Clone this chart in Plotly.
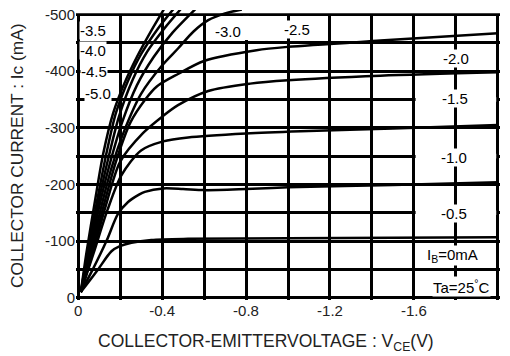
import plotly.graph_objects as go
import numpy as np

# ---- data (V_CE in volts, I_C in mA) ----
ib_labels = ["-0.5", "-1.0", "-1.5", "-2.0", "-2.5", "-3.0", "-3.5", "-4.0", "-4.5", "-5.0"]

v_05 = [-0.013, -0.05, -0.095, -0.159, -0.199, -0.254, -0.349, -0.524, -1.0, -1.5, -2.0]
i_05 = [-10, -28, -50, -82, -91, -97, -102, -104, -105, -106, -107]

v_10 = [-0.013, -0.07, -0.135, -0.19, -0.238, -0.29, -0.318, -0.405, -0.5, -0.6, -0.8, -1.0, -1.5, -2.0]
i_10 = [-10, -50, -100, -148, -169, -182, -187, -193, -192, -190, -192, -195, -199, -204]

v_15 = [-0.013, -0.075, -0.14, -0.206, -0.3, -0.405, -0.524, -0.8, -1.06, -1.5, -2.0]
i_15 = [-10, -80, -155, -216, -260, -276, -283, -290, -294, -299, -305]

v_20 = [-0.013, -0.07, -0.13, -0.2, -0.31, -0.405, -0.476, -0.62, -0.82, -1.0, -1.44, -2.0]
i_20 = [-10, -80, -160, -240, -291, -321, -340, -365, -378, -384, -392, -398]

v_25 = [-0.013, -0.065, -0.12, -0.18, -0.25, -0.32, -0.375, -0.476, -0.6, -0.85, -1.0, -1.44, -2.0]
i_25 = [-10, -80, -160, -240, -310, -350, -373, -395, -418, -437, -443, -454, -467]

v_30 = [-0.013, -0.06, -0.11, -0.16, -0.22, -0.3, -0.4, -0.476, -0.55, -0.62, -0.7, -0.78]
i_30 = [-10, -80, -160, -230, -295, -360, -410, -440, -470, -490, -502, -509]

v_35 = [-0.013, -0.055, -0.1, -0.15, -0.21, -0.28, -0.36, -0.45, -0.56]
i_35 = [-10, -80, -160, -235, -310, -375, -425, -468, -510]

v_40 = [-0.013, -0.05, -0.095, -0.14, -0.195, -0.26, -0.33, -0.41, -0.49]
i_40 = [-10, -80, -165, -240, -320, -385, -435, -475, -510]

v_45 = [-0.013, -0.045, -0.09, -0.135, -0.18, -0.24, -0.3, -0.38, -0.455]
i_45 = [-10, -80, -170, -255, -326, -385, -430, -475, -510]

v_50 = [-0.013, -0.04, -0.08, -0.12, -0.167, -0.22, -0.28, -0.34, -0.41]
i_50 = [-10, -80, -170, -255, -326, -378, -425, -466, -510]

x_tickvals = [0, -0.4, -0.8, -1.2, -1.6, -2.0]
x_ticktext = ["0", "-0.4", "-0.8", "-1.2", "-1.6", "-2.0"]
x_minorvals = [-0.2, -0.6, -1.0, -1.4, -1.8]
y_tickvals = [0, -100, -200, -300, -400, -500]
y_ticktext = ["0", "-100", "-200", "-300", "-400", "-500"]
y_minorvals = [-50, -150, -250, -350, -450]

FONT = "Arial, Liberation Sans, sans-serif"
GW = 2.6

fig = go.Figure()
curves = [(v_05, i_05), (v_10, i_10), (v_15, i_15), (v_20, i_20), (v_25, i_25),
          (v_30, i_30), (v_35, i_35), (v_40, i_40), (v_45, i_45), (v_50, i_50)]
for (vx, iy), name in zip(curves, ib_labels):
    fig.add_trace(go.Scatter(x=vx, y=iy, mode="lines", name=name,
                             line=dict(color="black", width=2.5, shape="spline", smoothing=0.8),
                             showlegend=False, hoverinfo="skip"))

shapes = []
white = dict(fillcolor="white", line=dict(width=0), layer="between")
# hide grid above the -500 frame line
shapes.append(dict(type="rect", xref="x", yref="y", x0=0.02, x1=-2.02, y0=-502.3, y1=-515, **white))
# white gaps in the grid behind the labels
for i in (350, 250, 150):
    for a, b in ((-1.608, -1.792), (-1.808, -1.992)):
        shapes.append(dict(type="rect", xref="x", yref="y", x0=a, x1=b, y0=-i + 4, y1=-i - 4, **white))
shapes.append(dict(type="rect", xref="x", yref="y", x0=-0.785, x1=-0.815, y0=-455, y1=-497.5, **white))

annos = []
def lab(x, y, text, bg=True, size=15):
    annos.append(dict(x=x, y=y, xref="x", yref="y", text=text, showarrow=False,
                      font=dict(family=FONT, size=size, color="black"),
                      bgcolor="white" if bg else None, borderpad=0,
                      xanchor="center", yanchor="middle"))

lab(-0.072, -472, "-3.5")
lab(-0.072, -436, "-4.0")
lab(-0.074, -399, "-4.5")
lab(-0.095, -360, "-5.0")
lab(-0.714, -470, "-3.0", bg=False)
lab(-1.045, -474, "-2.5")
lab(-1.80, -423, "-2.0")
lab(-1.797, -352, "-1.5")
lab(-1.79, -248, "-1.0")
lab(-1.79, -149, "-0.5")
lab(-1.786, -74, "I<sub>B</sub>=0mA")
lab(-1.826, -19, "Ta=25<sup>°</sup>C")

annos.append(dict(x=-0.139, y=0.497, xref="paper", yref="paper", textangle=-90,
                  text="COLLECTOR CURRENT : Ic (mA)", showarrow=False,
                  font=dict(family=FONT, size=17.3, color="#222"),
                  xanchor="center", yanchor="middle"))
annos.append(dict(x=0.448, y=-0.146, xref="paper", yref="paper",
                  text="COLLECTOR-EMITTERVOLTAGE : V<sub>CE</sub>(V)", showarrow=False,
                  font=dict(family=FONT, size=17.5, color="#222"),
                  xanchor="center", yanchor="middle"))

fig.update_layout(
    width=510, height=356,
    margin=dict(l=76, r=10, t=6, b=56),
    paper_bgcolor="white", plot_bgcolor="white",
    shapes=shapes, annotations=annos,
    xaxis=dict(range=[0.01, -2.01], showgrid=True, gridcolor="black", gridwidth=GW,
               zeroline=False, showline=False,
               tickvals=x_tickvals, ticktext=x_ticktext, ticks="",
               minor=dict(tickvals=x_minorvals, showgrid=True, gridcolor="black", gridwidth=GW, ticks=""),
               tickfont=dict(family=FONT, size=15, color="#222")),
    yaxis=dict(range=[4, -508], showgrid=True, gridcolor="black", gridwidth=GW,
               zeroline=False, showline=False,
               tickvals=y_tickvals, ticktext=y_ticktext, ticks="",
               minor=dict(tickvals=y_minorvals, showgrid=True, gridcolor="black", gridwidth=GW, ticks=""),
               tickfont=dict(family=FONT, size=15, color="#222")),
)

fig.write_html("out.html")
